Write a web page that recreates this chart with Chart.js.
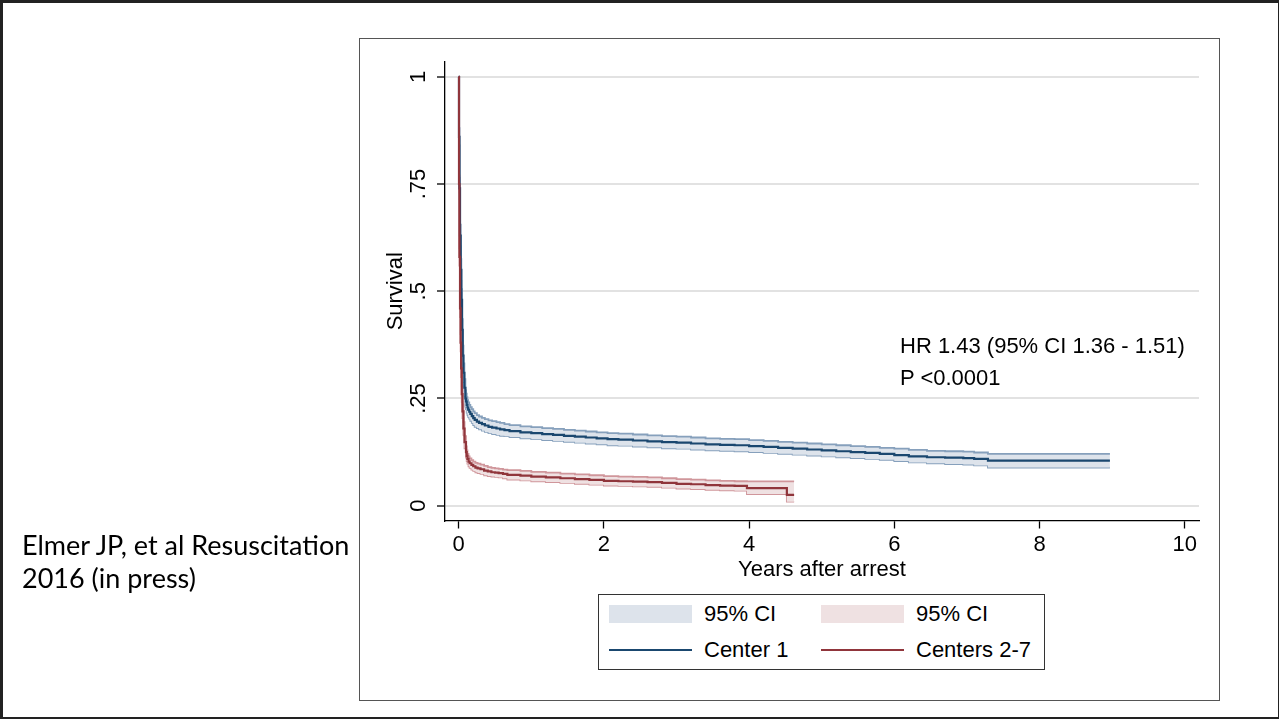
<!DOCTYPE html>
<html><head><meta charset="utf-8">
<script src="https://cdn.jsdelivr.net/npm/chart.js@4.4.1/dist/chart.umd.min.js"></script>
<style>
html,body{margin:0;padding:0;background:#fff;}
#page{position:relative;width:1279px;height:719px;overflow:hidden;background:#fff;}
#slideBorder{position:absolute;left:0;top:0;width:1279px;height:719px;box-sizing:border-box;border-style:solid;border-color:#222;border-width:3px 1px 2px 3px;pointer-events:none;}
#frame{position:absolute;left:359px;top:38px;width:861px;height:663px;box-sizing:border-box;border:1.5px solid #555;}
#cv{position:absolute;left:0;top:0;}
.cap{position:absolute;left:22px;font-family:Lato,'Open Sans',sans-serif;font-size:27px;color:#000;white-space:nowrap;line-height:30px;}
.ann{position:absolute;font-family:'Liberation Sans',Arial,sans-serif;font-size:22px;color:#000;white-space:nowrap;line-height:26px;}
#legend{position:absolute;left:598px;top:594px;width:447px;height:76px;box-sizing:border-box;border:1.3px solid #333;background:#fff;}
.lgSw{position:absolute;height:18px;width:83px;}
.lgLn{position:absolute;height:2px;width:83px;}
.lgTx{position:absolute;font-family:'Liberation Sans',Arial,sans-serif;font-size:22px;line-height:26px;color:#000;white-space:nowrap;}
</style></head>
<body><div id="page">
<div id="frame"></div>
<canvas id="cv" width="1279" height="719"></canvas>
<div class="cap" style="top:530px">Elmer JP, et al Resuscitation</div>
<div class="cap" style="top:563px">2016 (in press)</div>
<div class="ann" id="ann1" style="left:900px;top:333px"></div>
<div class="ann" id="ann2" style="left:900px;top:365px"></div>
<div id="legend"></div>
<div id="slideBorder"></div>
</div>
<script>
// ---- data ----
const xTicks = [0, 2, 4, 6, 8, 10];
const yTicks = [0, 0.25, 0.5, 0.75, 1];
const yTickLabels = ['0', '.25', '.5', '.75', '1'];
const annotationLines = ['HR 1.43 (95% CI 1.36 - 1.51)', 'P <0.0001'];

const c1Name = 'Center 1';
const c1Time = [0, 0.004, 0.01, 0.018, 0.027, 0.036, 0.046, 0.055, 0.065, 0.078, 0.092, 0.1, 0.11, 0.12, 0.13, 0.145, 0.16, 0.18, 0.2, 0.22, 0.25, 0.28, 0.32, 0.36, 0.41, 0.46, 0.52, 0.57, 0.63, 0.7, 0.85, 1.0, 1.15, 1.3, 1.45, 1.6, 1.75, 1.9, 2.05, 2.2, 2.4, 2.6, 2.8, 3.0, 3.2, 3.4, 3.6, 3.8, 4.0, 4.2, 4.4, 4.6, 4.8, 5.0, 5.2, 5.4, 5.6, 5.8, 6.0, 6.2, 6.45, 6.7, 6.95, 7.1, 7.29, 8.97];
const c1Surv = [1, 0.86, 0.74, 0.63, 0.55, 0.48, 0.41, 0.35, 0.31, 0.275, 0.25, 0.243, 0.235, 0.229, 0.224, 0.219, 0.214, 0.209, 0.204, 0.2, 0.196, 0.193, 0.19, 0.187, 0.184, 0.182, 0.18, 0.178, 0.176, 0.174, 0.171, 0.169, 0.167, 0.165, 0.163, 0.161, 0.159, 0.157, 0.155, 0.154, 0.152, 0.15, 0.148, 0.147, 0.145, 0.143, 0.142, 0.141, 0.139, 0.137, 0.135, 0.133, 0.131, 0.129, 0.127, 0.125, 0.123, 0.121, 0.118, 0.115, 0.113, 0.112, 0.111, 0.109, 0.105, 0.105];
const c1Hi = [1, 0.88, 0.765, 0.655, 0.575, 0.505, 0.435, 0.373, 0.332, 0.295, 0.269, 0.261, 0.253, 0.246, 0.241, 0.235, 0.23, 0.225, 0.22, 0.216, 0.211, 0.208, 0.205, 0.202, 0.199, 0.197, 0.195, 0.193, 0.19, 0.188, 0.185, 0.183, 0.181, 0.179, 0.177, 0.175, 0.173, 0.171, 0.169, 0.168, 0.166, 0.164, 0.162, 0.161, 0.159, 0.157, 0.156, 0.155, 0.153, 0.151, 0.149, 0.147, 0.145, 0.143, 0.141, 0.139, 0.137, 0.135, 0.133, 0.13, 0.128, 0.127, 0.126, 0.124, 0.121, 0.121];
const c1Lo = [1, 0.84, 0.715, 0.605, 0.525, 0.455, 0.385, 0.327, 0.288, 0.255, 0.231, 0.225, 0.217, 0.212, 0.207, 0.203, 0.198, 0.193, 0.188, 0.184, 0.181, 0.178, 0.175, 0.172, 0.169, 0.167, 0.165, 0.163, 0.162, 0.16, 0.157, 0.155, 0.153, 0.151, 0.149, 0.147, 0.145, 0.143, 0.141, 0.14, 0.138, 0.136, 0.134, 0.133, 0.131, 0.129, 0.128, 0.127, 0.125, 0.123, 0.121, 0.119, 0.117, 0.115, 0.113, 0.111, 0.109, 0.107, 0.104, 0.101, 0.099, 0.097, 0.096, 0.094, 0.089, 0.089];

const c2Name = 'Centers 2-7';
const c2Time = [0, 0.004, 0.01, 0.018, 0.026, 0.033, 0.042, 0.052, 0.065, 0.08, 0.1, 0.11, 0.12, 0.135, 0.15, 0.175, 0.2, 0.23, 0.26, 0.3, 0.35, 0.4, 0.45, 0.5, 0.55, 0.61, 0.67, 0.85, 1.0, 1.2, 1.4, 1.6, 1.8, 2.0, 2.2, 2.4, 2.6, 2.8, 3.0, 3.2, 3.4, 3.6, 3.8, 3.97, 4.52, 4.62];
const c2Surv = [1, 0.75, 0.58, 0.46, 0.38, 0.32, 0.26, 0.22, 0.18, 0.148, 0.125, 0.116, 0.109, 0.103, 0.099, 0.095, 0.092, 0.089, 0.087, 0.085, 0.082, 0.08, 0.078, 0.077, 0.076, 0.074, 0.072, 0.07, 0.068, 0.066, 0.064, 0.062, 0.06, 0.058, 0.057, 0.056, 0.055, 0.053, 0.051, 0.05, 0.048, 0.047, 0.046, 0.041, 0.0253, 0.0253];
const c2Hi = [1, 0.77, 0.6, 0.48, 0.4, 0.34, 0.278, 0.236, 0.195, 0.162, 0.138, 0.129, 0.121, 0.115, 0.11, 0.106, 0.103, 0.1, 0.098, 0.096, 0.093, 0.09, 0.088, 0.087, 0.086, 0.084, 0.083, 0.081, 0.079, 0.077, 0.075, 0.073, 0.071, 0.069, 0.068, 0.067, 0.066, 0.064, 0.062, 0.061, 0.059, 0.058, 0.057, 0.0567, 0.0567, 0.0567];
const c2Lo = [1, 0.73, 0.56, 0.44, 0.36, 0.3, 0.242, 0.204, 0.165, 0.134, 0.112, 0.104, 0.098, 0.092, 0.088, 0.084, 0.081, 0.078, 0.076, 0.074, 0.071, 0.069, 0.068, 0.067, 0.066, 0.064, 0.061, 0.059, 0.057, 0.055, 0.053, 0.051, 0.049, 0.047, 0.046, 0.045, 0.044, 0.042, 0.04, 0.039, 0.037, 0.036, 0.035, 0.0273, 0.0093, 0.0093];

const ciLabel = '95% CI';
// ---- styling ----
const C1_LINE = '#1a476f', C1_EDGE = 'rgb(134,160,188)', C1_FILL = '#dde3eb';
const C2_LINE = '#90353b', C2_EDGE = 'rgb(208,150,155)', C2_FILL = '#efe1e2';
const FONT = "'Liberation Sans', Arial, sans-serif";

const pts = (t, v) => t.map((x, i) => ({x: x, y: v[i]}));
const common = {pointRadius: 0, pointHoverRadius: 0, stepped: true, tension: 0};

const datasets = [
  Object.assign({label: ciLabel, data: pts(c1Time, c1Hi), borderColor: C1_EDGE, borderWidth: 1.8, backgroundColor: C1_FILL, fill: '+1', order: 3}, common),
  Object.assign({label: ciLabel + ' lo', data: pts(c1Time, c1Lo), borderColor: C1_EDGE, borderWidth: 1.8, fill: false, order: 3}, common),
  Object.assign({label: ciLabel, data: pts(c2Time, c2Hi), borderColor: C2_EDGE, borderWidth: 1.8, backgroundColor: C2_FILL, fill: '+1', order: 2}, common),
  Object.assign({label: ciLabel + ' lo', data: pts(c2Time, c2Lo), borderColor: C2_EDGE, borderWidth: 1.8, fill: false, order: 2}, common),
  Object.assign({label: c1Name, data: pts(c1Time, c1Surv), borderColor: C1_LINE, borderWidth: 2.2, fill: false, order: 1}, common),
  Object.assign({label: c2Name, data: pts(c2Time, c2Surv), borderColor: C2_LINE, borderWidth: 2.2, fill: false, order: 0}, common)
];

new Chart(document.getElementById('cv'), {
  type: 'line',
  data: {datasets: datasets},
  options: {
    responsive: false,
    animation: false,
    devicePixelRatio: 1,
    events: [],
    layout: {padding: {left: 360, top: 62, right: 80, bottom: 118.5}},
    plugins: {legend: {display: false}, tooltip: {enabled: false}},
    scales: {
      x: {
        type: 'linear', position: 'bottom', min: -0.189, max: 10.197,
        afterBuildTicks: s => { s.ticks = xTicks.map(v => ({value: v})); },
        afterFit: s => { s.height = 80; },
        ticks: {font: {family: FONT, size: 22}, color: '#000', padding: 3, maxRotation: 0, minRotation: 0, autoSkip: false,
          callback: v => String(v)},
        grid: {drawOnChartArea: false, tickLength: 8, tickColor: '#000', tickWidth: 1.3},
        border: {color: '#000', width: 1.3},
        title: {display: true, text: 'Years after arrest', font: {family: FONT, size: 22}, color: '#000', padding: {top: 0, bottom: 17}}
      },
      y: {
        type: 'linear', position: 'left', min: -0.0345, max: 1.0345,
        afterBuildTicks: s => { s.ticks = yTicks.map(v => ({value: v})); },
        afterFit: s => { s.width = 85; },
        ticks: {font: {family: FONT, size: 22}, color: '#000', padding: 3, minRotation: 90, maxRotation: 90, crossAlign: 'center', autoSkip: false,
          callback: v => { const i = yTicks.indexOf(v); return i >= 0 ? yTickLabels[i] : ''; }},
        grid: {color: '#e2e2e2', lineWidth: 2, tickLength: 8, tickColor: '#000', tickWidth: 1.3},
        border: {color: '#000', width: 1.3},
        title: {display: true, text: 'Survival', font: {family: FONT, size: 22}, color: '#000', padding: {top: 23, bottom: 0}}
      }
    }
  }
});

// annotation text
document.getElementById('ann1').textContent = annotationLines[0];
document.getElementById('ann2').textContent = annotationLines[1];

// legend (built from the dataset styles)
const lg = document.getElementById('legend');
const legendItems = [
  {kind: 'box', color: C1_FILL, text: ciLabel, x: 10, y: 10, tx: 105, ty: 6},
  {kind: 'box', color: C2_FILL, text: ciLabel, x: 222, y: 10, tx: 317, ty: 6},
  {kind: 'line', color: C1_LINE, text: c1Name, x: 10, y: 54, tx: 105, ty: 42},
  {kind: 'line', color: C2_LINE, text: c2Name, x: 222, y: 54, tx: 317, ty: 42}
];
legendItems.forEach(it => {
  const sw = document.createElement('div');
  sw.className = it.kind === 'box' ? 'lgSw' : 'lgLn';
  sw.style.left = it.x + 'px'; sw.style.top = it.y + 'px'; sw.style.background = it.color;
  lg.appendChild(sw);
  const tx = document.createElement('div');
  tx.className = 'lgTx'; tx.textContent = it.text;
  tx.style.left = it.tx + 'px'; tx.style.top = it.ty + 'px';
  lg.appendChild(tx);
});
</script>
</body></html>
